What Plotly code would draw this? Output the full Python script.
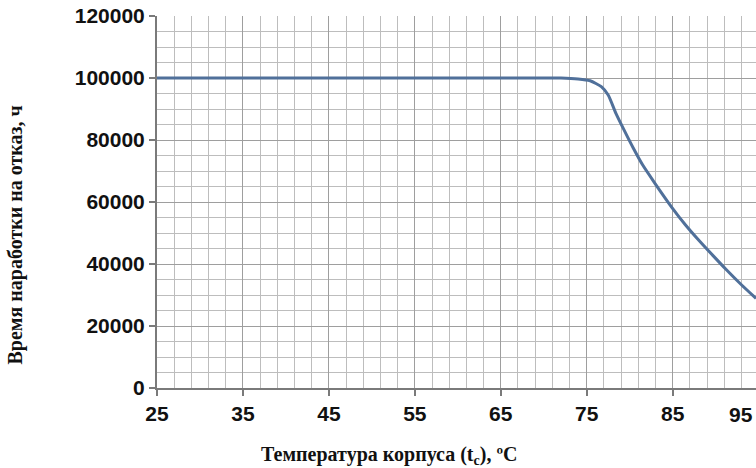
import plotly.graph_objects as go

# Data
temperature = [25, 70, 72, 74, 75.4, 76.7, 77.5, 78.4, 79.3, 80.4, 81.5, 82.9, 84.9,
               86.5, 88.1, 89.7, 91.2, 93.0, 94.7]
mtbf_hours = [100000, 100000, 100000, 99700, 99100, 97200, 94500, 88600, 83500, 77500,
              72000, 66200, 58300, 52600, 47500, 42700, 38300, 33300, 28900]

x_ticks = [25, 35, 45, 55, 65, 75, 85, 95]
y_ticks = [0, 20000, 40000, 60000, 80000, 100000, 120000]

x_title = "Температура корпуса (t<sub>c</sub>), ºC"
y_title = "Время наработки на отказ, ч"

X_RANGE = [25, 94.7]
Y_RANGE = [0, 120000]

fig = go.Figure()
fig.add_trace(go.Scatter(
    x=temperature, y=mtbf_hours, mode="lines",
    line=dict(color="#50709a", width=3, shape="spline", smoothing=0.6),
    showlegend=False, hoverinfo="skip",
))

tick_font = dict(family="Liberation Sans, Arial, sans-serif", size=21, color="#111111", weight="bold")

fig.update_layout(
    width=756, height=468,
    margin=dict(l=157, r=0, t=16, b=80),
    paper_bgcolor="white", plot_bgcolor="white",
    xaxis=dict(
        range=X_RANGE, tickmode="array", tickvals=x_ticks,
        ticktext=[str(v) for v in x_ticks], automargin=False,
        showgrid=True, gridcolor="#9e9e9e", gridwidth=1,
        minor=dict(dtick=2, tick0=25, showgrid=True, gridcolor="#bdbdbd", gridwidth=1),
        showline=True, linecolor="#7a7a7a", linewidth=2,
        ticks="outside", ticklen=6, tickcolor="#7a7a7a", tickwidth=2,
        tickfont=tick_font, zeroline=False, fixedrange=True,
    ),
    yaxis=dict(
        range=Y_RANGE, tickmode="array", tickvals=y_ticks,
        ticktext=[str(v) for v in y_ticks], automargin=False,
        showgrid=True, gridcolor="#9e9e9e", gridwidth=1,
        minor=dict(dtick=5000, tick0=0, showgrid=True, gridcolor="#bdbdbd", gridwidth=1),
        showline=True, linecolor="#7a7a7a", linewidth=2,
        ticks="outside", ticklen=6, tickcolor="#7a7a7a", tickwidth=2,
        tickfont=tick_font, zeroline=False, fixedrange=True,
    ),
)

# tick labels that fall just beyond the visible x range (the reference is cropped there)
for v in x_ticks:
    if v > X_RANGE[1]:
        fig.add_annotation(
            x=(v - X_RANGE[0]) / (X_RANGE[1] - X_RANGE[0]), xref="paper",
            y=0, yref="paper", text=str(v), showarrow=False,
            xanchor="right", yanchor="top", xshift=-4, yshift=-13,
            font=tick_font,
        )

title_font = dict(family="Liberation Serif, Times New Roman, serif", size=20, color="#111111", weight="bold")
fig.add_annotation(
    text=y_title, xref="paper", yref="paper", x=-0.237, y=0.41,
    showarrow=False, textangle=-90, xanchor="center", yanchor="middle", font=title_font,
)
fig.add_annotation(
    text=x_title, xref="paper", yref="paper", x=0.387, y=-0.182,
    showarrow=False, xanchor="center", yanchor="middle", font=title_font,
)

fig.write_html(
    "out.html",
    config={"displayModeBar": False},
    post_script="document.body.style.margin='0';document.body.style.overflow='hidden';",
)
